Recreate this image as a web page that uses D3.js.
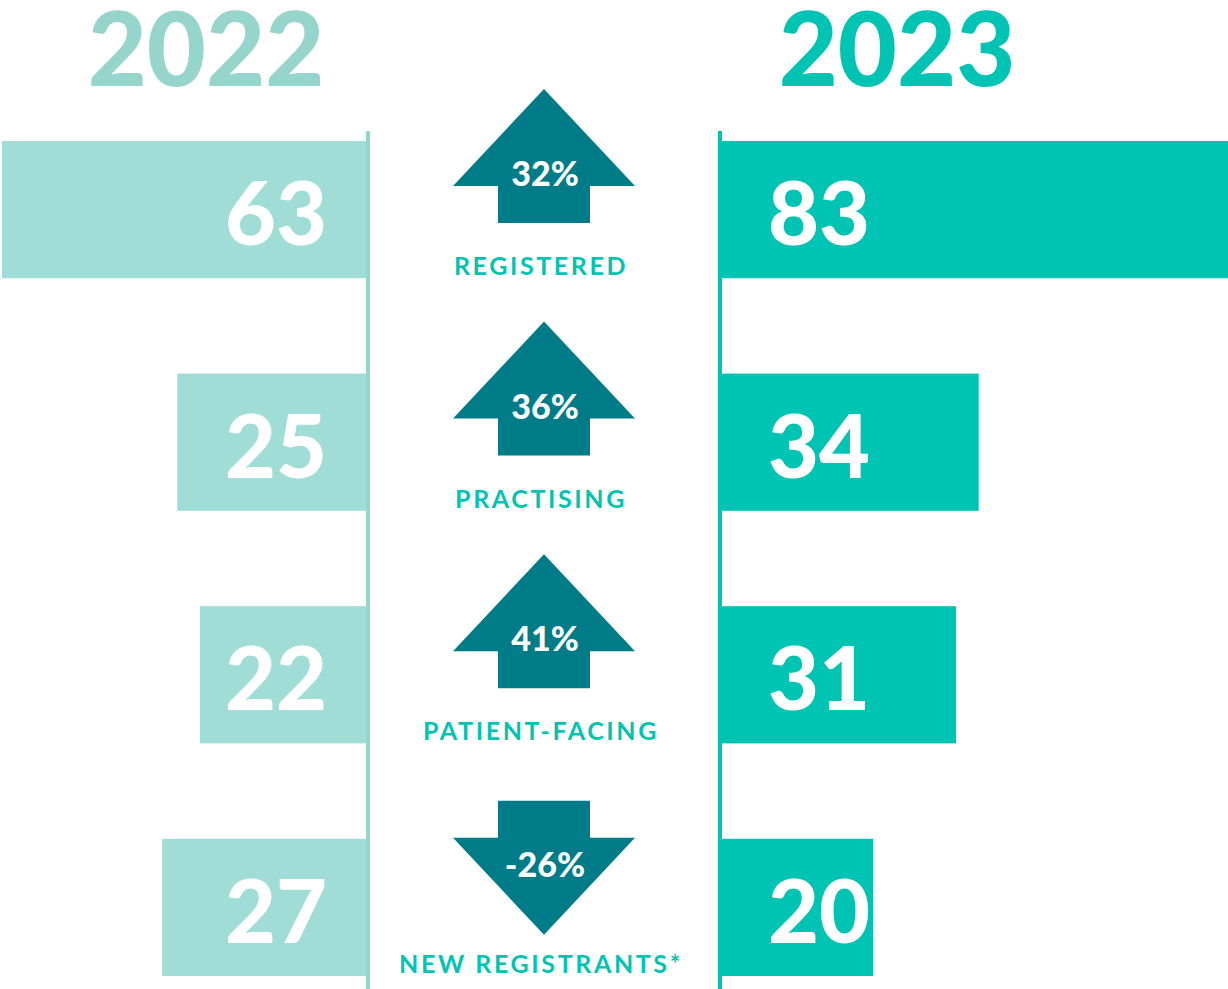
<!DOCTYPE html>
<html>
<head>
<meta charset="utf-8">
<script src="https://cdn.jsdelivr.net/npm/d3@7"></script>
<style>
  body { margin: 0; background: #fff; }
  svg { display: block; }
  text { font-family: Lato, "Open Sans", sans-serif; }
</style>
</head>
<body>
<div id="chart"></div>
<script>
// data
var categories = ["REGISTERED", "PRACTISING", "PATIENT-FACING", "NEW REGISTRANTS*"];
var values2022 = [63, 25, 22, 27];
var values2023 = [83, 34, 31, 20];
var changes = ["32%", "36%", "41%", "-26%"];
var years = ["2022", "2023"];

var width = 1228, height = 989;
var leftBase = 366, rightBase = 722;   // where the bars start

var svg = d3.select("#chart")
  .append("svg")
    .attr("width", width)
    .attr("height", height);

// scales
var y = d3.scaleBand()
    .domain(categories)
    .range([141, 976])
    .paddingInner(0.41)
    .paddingOuter(0);

var len = d3.scaleLinear()
    .domain([0, 40])
    .range([0, 302]);

var rows = categories.map(function(c, i) {
  return { cat: c, v22: values2022[i], v23: values2023[i], change: changes[i],
           up: values2023[i] >= values2022[i] };
});

// 2022 bars (grow leftwards)
svg.append("g")
  .selectAll("rect")
  .data(rows)
  .enter()
  .append("rect")
    .attr("x", function(d) { return Math.max(2, leftBase - len(d.v22)); })
    .attr("y", function(d) { return y(d.cat); })
    .attr("width", function(d) { return leftBase - Math.max(2, leftBase - len(d.v22)); })
    .attr("height", y.bandwidth())
    .attr("fill", "#9fddd6");

// 2023 bars (grow rightwards)
svg.append("g")
  .selectAll("rect")
  .data(rows)
  .enter()
  .append("rect")
    .attr("x", rightBase)
    .attr("y", function(d) { return y(d.cat); })
    .attr("width", function(d) { return Math.min(width - rightBase, len(d.v23)); })
    .attr("height", y.bandwidth())
    .attr("fill", "#00c4b3");

// baselines
svg.append("rect").attr("x", leftBase).attr("y", 131).attr("width", 4).attr("height", height - 131).attr("fill", "#96d5cc");
svg.append("rect").attr("x", rightBase - 4).attr("y", 131).attr("width", 4).attr("height", height - 131).attr("fill", "#00c4b3");

// value labels
svg.append("g")
  .selectAll("text")
  .data(rows)
  .enter()
  .append("text")
    .attr("x", leftBase - 39)
    .attr("y", function(d) { return y(d.cat) + 104; })
    .attr("text-anchor", "end")
    .style("font-size", "88px")
    .style("font-weight", 900)
    .attr("fill", "#fff")
    .text(function(d) { return d.v22; });

svg.append("g")
  .selectAll("text")
  .data(rows)
  .enter()
  .append("text")
    .attr("x", rightBase + 46)
    .attr("y", function(d) { return y(d.cat) + 104; })
    .style("font-size", "88px")
    .style("font-weight", 900)
    .attr("fill", "#fff")
    .text(function(d) { return d.v23; });

// year headers
svg.append("g")
  .selectAll("text")
  .data(years)
  .enter()
  .append("text")
    .attr("x", function(d, i) { return i === 0 ? 206 : 897; })
    .attr("y", 86)
    .attr("text-anchor", "middle")
    .style("font-size", "102px")
    .style("font-weight", 900)
    .attr("fill", function(d, i) { return i === 0 ? "#96d5cc" : "#00c4b3"; })
    .text(function(d) { return d; });

// arrows
var cx = 544, headW = 91, shaftW = 46, headH = 97, totalH = 134;
var arrowPath = function(d) {
  if (d.up) {
    var t = y(d.cat) - 52;
    return "M" + cx + "," + t +
      "L" + (cx + headW) + "," + (t + headH) +
      "L" + (cx + shaftW) + "," + (t + headH) +
      "L" + (cx + shaftW) + "," + (t + totalH) +
      "L" + (cx - shaftW) + "," + (t + totalH) +
      "L" + (cx - shaftW) + "," + (t + headH) +
      "L" + (cx - headW) + "," + (t + headH) + "Z";
  }
  var s = y(d.cat) - 38;
  return "M" + (cx - shaftW) + "," + s +
    "L" + (cx + shaftW) + "," + s +
    "L" + (cx + shaftW) + "," + (s + totalH - headH) +
    "L" + (cx + headW) + "," + (s + totalH - headH) +
    "L" + cx + "," + (s + totalH) +
    "L" + (cx - headW) + "," + (s + totalH - headH) +
    "L" + (cx - shaftW) + "," + (s + totalH - headH) + "Z";
};

var arrows = svg.append("g")
  .selectAll("g")
  .data(rows)
  .enter()
  .append("g");

arrows.append("path")
    .attr("d", arrowPath)
    .attr("fill", "#007c89");

arrows.append("text")
    .attr("x", cx + 1)
    .attr("y", function(d) { return d.up ? y(d.cat) + 45 : y(d.cat) + 38; })
    .attr("text-anchor", "middle")
    .style("font-size", "34px")
    .style("font-weight", 900)
    .attr("fill", "#fff")
    .text(function(d) { return d.change; });

arrows.append("text")
    .attr("x", cx - 3)
    .attr("y", function(d) { return y(d.cat) + y.bandwidth() - 3; })
    .attr("text-anchor", "middle")
    .style("font-size", "25px")
    .style("font-weight", 700)
    .style("letter-spacing", "2.6px")
    .attr("fill", "#00c4b3")
    .text(function(d) { return d.cat; });
</script>
</body>
</html>
